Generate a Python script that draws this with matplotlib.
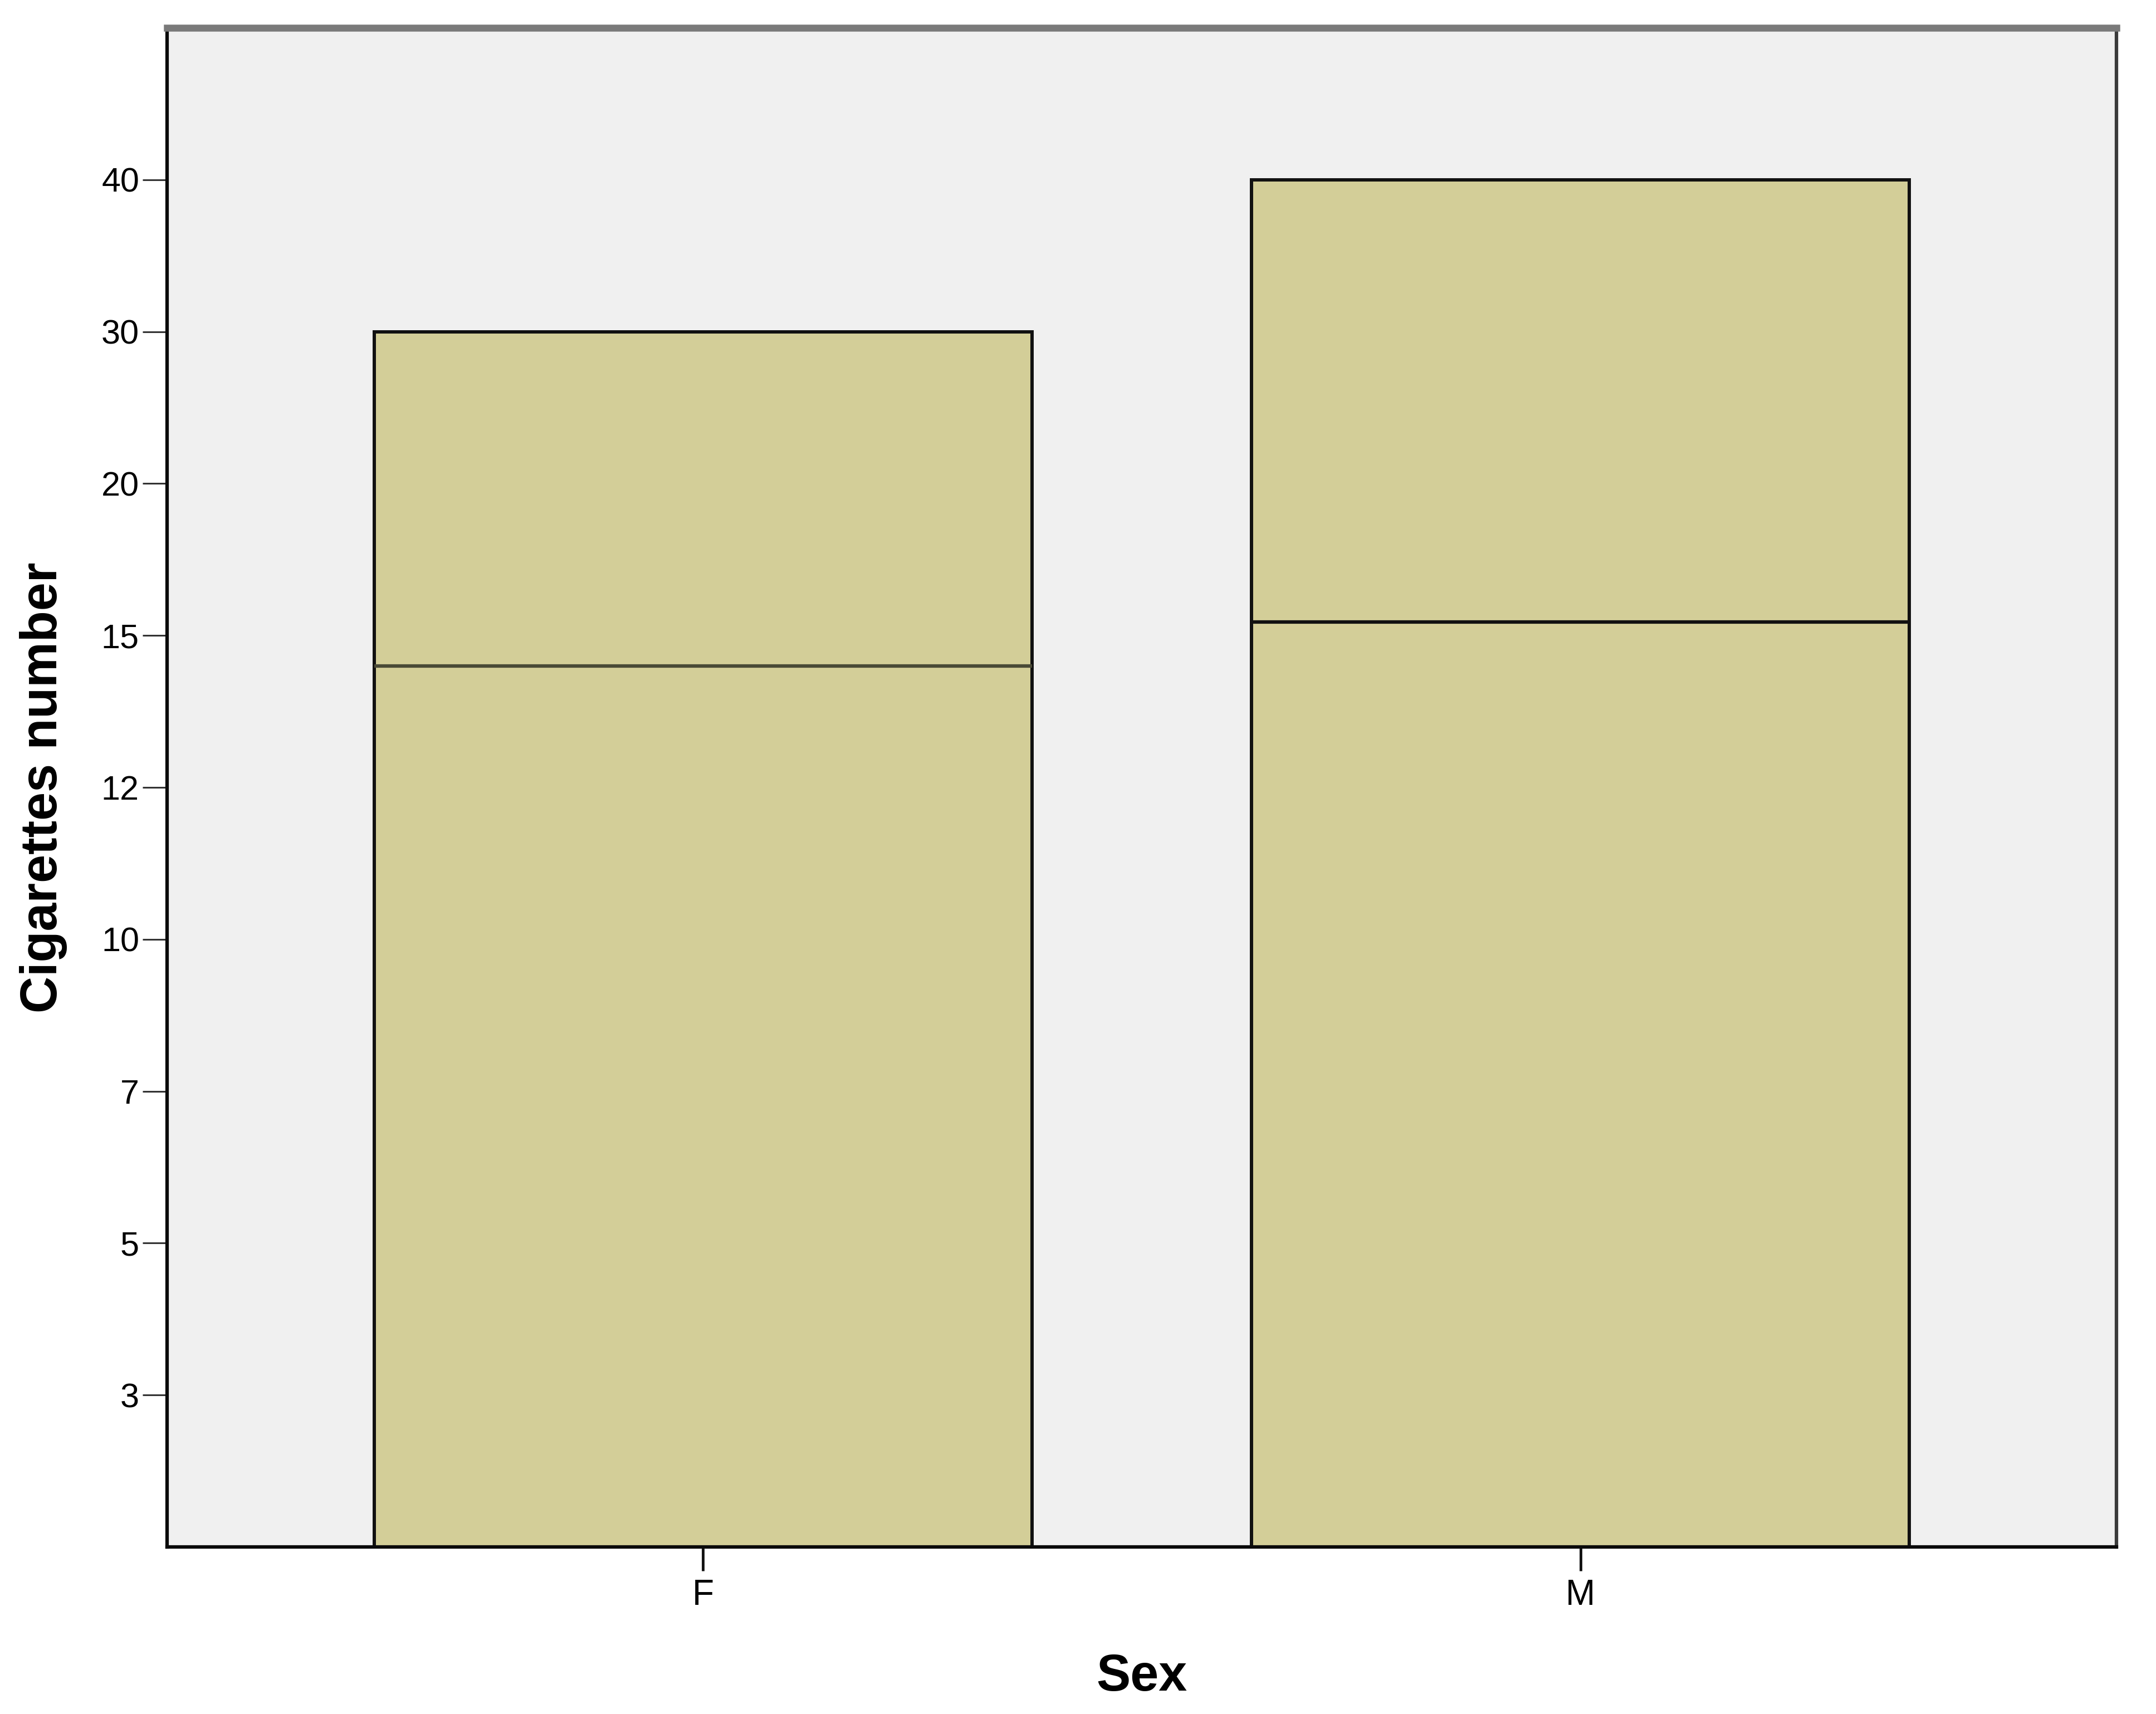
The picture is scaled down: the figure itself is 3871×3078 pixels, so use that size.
import numpy as np
import matplotlib
matplotlib.use("Agg")
import matplotlib.pyplot as plt

# ---- data ----
sex = ["F", "M"]
y_levels = [3, 5, 7, 10, 12, 15, 20, 30, 40]      # ordinal axis labels (evenly spaced)
box_top = [30, 40]                                 # upper edge of box
box_median = [14.4, 15.45]                         # median line

# ordinal positions of the labelled levels
level_pos = np.arange(1, len(y_levels) + 1)

def to_pos(v):
    return np.interp(v, y_levels, level_pos)

plt.rcParams['font.family'] = ['Liberation Sans', 'DejaVu Sans']

fig = plt.figure(figsize=(38.71, 30.78), dpi=100)
ax = fig.add_axes([300/3871, 300/3078, 3500/3871, 2728/3078])
ax.set_facecolor('#F0F0F0')

x = np.arange(len(sex))
tops = to_pos(np.array(box_top, dtype=float))
meds = to_pos(np.array(box_median, dtype=float))
width = 0.75
med_colors = ['#4a4a36', '#111111']

ax.bar(x, tops, width=width, bottom=0, color='#D3CE98', edgecolor='#111111',
       linewidth=4.3, zorder=2)
for xi, m, c in zip(x, meds, med_colors):
    ax.hlines(m, xi - width/2, xi + width/2, color=c, linewidth=4.5, zorder=3)

ax.set_xlim(-0.611, 1.611)
ax.set_ylim(0, 10.0)

ax.set_yticks(level_pos)
ax.set_yticklabels([str(v) for v in y_levels])
ax.set_xticks(x)
ax.set_xticklabels(sex)

ax.tick_params(axis='y', length=32, width=2.2, color='#333333', pad=4, labelsize=44)
ax.tick_params(axis='x', length=31, width=3.5, color='#111111', pad=10, labelsize=46)

for s in ['left', 'bottom']:
    ax.spines[s].set_color('#0a0a0a')
    ax.spines[s].set_linewidth(4.5)
ax.spines['right'].set_color('#3a3a3a')
ax.spines['right'].set_linewidth(4.5)
ax.spines['top'].set_color('#7a7a7a')
ax.spines['top'].set_linewidth(9)

ax.set_ylabel('Cigarettes number', fontsize=66, fontweight='bold')
ax.yaxis.set_label_coords(-0.051, 0.5)
ax.set_xlabel('Sex', fontsize=66, fontweight='bold')
ax.xaxis.set_label_coords(0.5, -0.070)

fig.savefig('out.png', dpi=100, facecolor='white')
